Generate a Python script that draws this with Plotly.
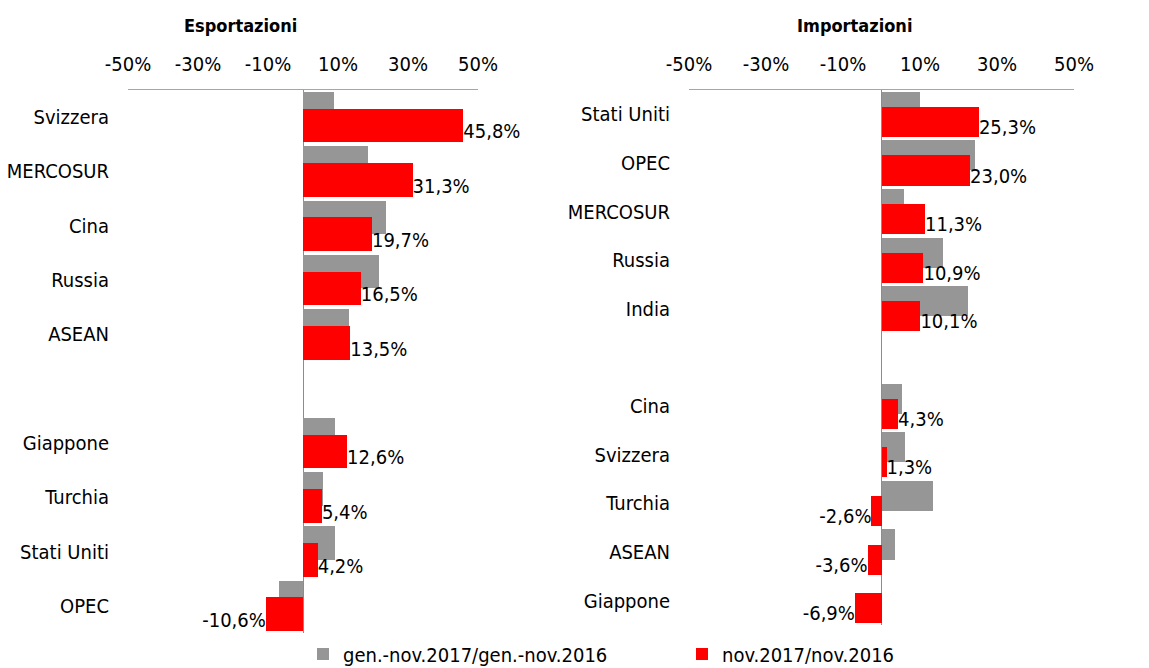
import plotly.graph_objects as go

W, H = 1149, 668

# ---- data ----
exp_countries = ["Svizzera", "MERCOSUR", "Cina", "Russia", "ASEAN", "",
                 "Giappone", "Turchia", "Stati Uniti", "OPEC"]
exp_ytd = [8.9, 18.6, 23.8, 21.6, 13.0, None, 9.0, 5.6, 9.0, -6.8]
exp_month = [45.8, 31.3, 19.7, 16.5, 13.5, None, 12.6, 5.4, 4.2, -10.6]

imp_countries = ["Stati Uniti", "OPEC", "MERCOSUR", "Russia", "India", "",
                 "Cina", "Svizzera", "Turchia", "ASEAN", "Giappone"]
imp_ytd = [9.9, 24.2, 5.8, 16.1, 22.5, None, 5.2, 6.1, 13.4, 3.6, None]
imp_month = [25.3, 23.0, 11.3, 10.9, 10.1, None, 4.3, 1.3, -2.6, -3.6, -6.9]

tick_vals = [-50, -30, -10, 10, 30, 50]
tick_text = ["-50%", "-30%", "-10%", "10%", "30%", "50%"]

series_names = ["gen.-nov.2017/gen.-nov.2016", "nov.2017/nov.2016"]
titles = ["Esportazioni", "Importazioni"]

# ---- style ----
FONT = "Liberation Sans Narrow, Arial Narrow, DejaVu Sans Condensed, sans-serif"
GRAY = "#969696"
RED = "#FF0000"
BW = 0.62

fig = go.Figure()


def fmt(v):
    return f"{v:.1f}%".replace(".", ",")


def add_panel(idx, countries, ytd, month, showlegend):
    xa = "x" if idx == 0 else "x2"
    ya = "y" if idx == 0 else "y2"
    pos = list(range(len(countries)))
    fig.add_trace(go.Bar(
        y=pos, x=ytd, orientation="h", width=BW, offset=-0.465,
        marker=dict(color=GRAY, line=dict(width=0)),
        name=series_names[0], showlegend=showlegend, legendgroup="a",
        xaxis=xa, yaxis=ya, hoverinfo="x+name"))
    fig.add_trace(go.Bar(
        y=pos, x=month, orientation="h", width=BW, offset=-0.155,
        marker=dict(color=RED, line=dict(width=0)),
        name=series_names[1], showlegend=showlegend, legendgroup="b",
        xaxis=xa, yaxis=ya, hoverinfo="x+name"))
    # data labels
    lx, ly, lt, lp = [], [], [], []
    for p, v in zip(pos, month):
        if v is None:
            continue
        lx.append(v)
        ly.append(p + 0.3)
        lt.append(fmt(v))
        lp.append("middle right" if v >= 0 else "middle left")
    fig.add_trace(go.Scatter(
        x=lx, y=ly, mode="text", text=lt, textposition=lp,
        textfont=dict(family=FONT, size=20, color="black"),
        showlegend=False, hoverinfo="skip", cliponaxis=False,
        xaxis=xa, yaxis=ya))


add_panel(0, exp_countries, exp_ytd, exp_month, True)
add_panel(1, imp_countries, imp_ytd, imp_month, False)

xcommon = dict(range=[-50, 50], side="top", tickvals=tick_vals, ticktext=tick_text,
               showgrid=False, zeroline=True, zerolinecolor="#8c8c8c", zerolinewidth=1.3,
               showline=True, linecolor="#a6a6a6", linewidth=1.3, ticks="",
               ticklabelstandoff=10, automargin=False,
               tickfont=dict(family=FONT, size=20, color="black"), fixedrange=True)
ycommon = dict(showgrid=False, zeroline=False, showline=False, ticks="", automargin=False,
               ticklabelstandoff=18,
               tickfont=dict(family=FONT, size=20, color="black"), fixedrange=True)

ytop = 1 - 90 / H
fig.update_layout(
    template="none",
    width=W, height=H,
    margin=dict(l=0, r=0, t=0, b=0, autoexpand=False),
    paper_bgcolor="white", plot_bgcolor="white",
    barmode="overlay", bargap=0,
    font=dict(family=FONT, size=20, color="black"),
    xaxis=dict(domain=[128 / W, 478 / W], anchor="y", **xcommon),
    xaxis2=dict(domain=[689 / W, 1074 / W], anchor="y2", **xcommon),
    yaxis=dict(domain=[1 - 633 / H, ytop], anchor="x",
               range=[len(exp_countries) - 0.5, -0.5],
               tickvals=list(range(len(exp_countries))), ticktext=exp_countries,
               **ycommon),
    yaxis2=dict(domain=[1 - 625 / H, ytop], anchor="x2",
                range=[len(imp_countries) - 0.5, -0.5],
                tickvals=list(range(len(imp_countries))), ticktext=imp_countries,
                **ycommon),
    legend=dict(orientation="h", x=303 / W, xanchor="left", y=1 - 654 / H, yanchor="middle",
                font=dict(family=FONT, size=20, color="black"), bgcolor="rgba(0,0,0,0)",
                entrywidth=334, traceorder="normal", itemwidth=30),
    annotations=[
        dict(text="<b>" + titles[0] + "</b>", x=240 / W, y=1 - 25 / H, xref="paper", yref="paper",
             xanchor="center", yanchor="middle",
             showarrow=False, font=dict(family=FONT, size=18, color="black")),
        dict(text="<b>" + titles[1] + "</b>", x=854 / W, y=1 - 25 / H, xref="paper", yref="paper",
             xanchor="center", yanchor="middle",
             showarrow=False, font=dict(family=FONT, size=18, color="black")),
    ],
)

fig.write_html("out.html", post_script="document.body.style.margin='0';",
               config={"displayModeBar": False})
